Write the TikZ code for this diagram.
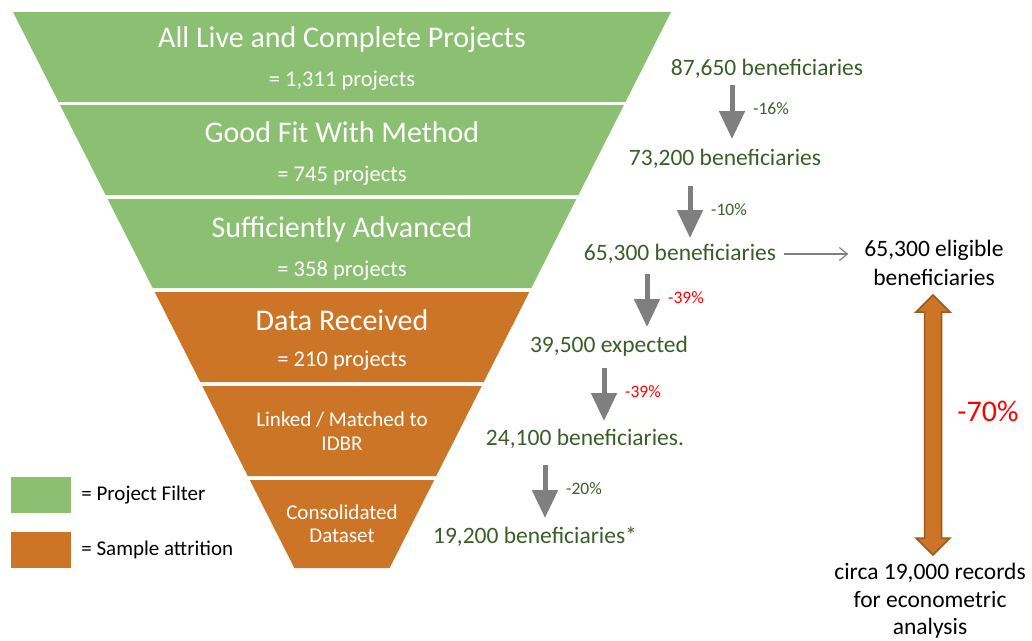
\documentclass[tikz,border=0pt]{standalone}
\usepackage{fontspec}
\setmainfont{Carlito}
\usetikzlibrary{positioning, arrows.meta, calc}

\definecolor{filtgreen}{HTML}{8BBF72}
\definecolor{attrorange}{HTML}{CC7527}
\definecolor{rimorange}{HTML}{9A5A1F}
\definecolor{countgreen}{HTML}{3A5E26}
\definecolor{dropgray}{HTML}{7F7F7F}
\definecolor{lossred}{HTML}{FF0000}

\tikzset{
  every node/.style={inner sep=0pt},
  headtext/.style={text=white, font=\fontsize{30}{35}\selectfont},
  sizetext/.style={text=white, font=\fontsize{22.5}{26}\selectfont},
  smalltext/.style={text=white, align=center, font=\fontsize{21}{23.5}\selectfont},
  count/.style={text=countgreen, font=\fontsize{23.5}{29}\selectfont},
  pct/.style={anchor=west, font=\fontsize{17.5}{20}\selectfont},
  drop/.style={dropgray, line width=5pt, -{Triangle[width=25pt,length=28pt]}},
  thinarrow/.style={dropgray, line width=1.2pt, -{Straight Barb[length=8pt,width=13pt]}},
  bigarrow/.style={fill=attrorange, draw=rimorange, line width=1.5pt, line join=miter},
  keybox/.style={minimum width=60pt, minimum height=36pt},
  keytext/.style={anchor=west, font=\fontsize{21}{24}\selectfont}
}

\begin{document}
\begin{tikzpicture}[x=1pt, y=-1pt, declare function={hw(\y)=329-0.506*(\y-12);}]
                  \useasboundingbox (0,0) rectangle (1032,640);

                  % Funnel bands
                  \foreach \t/\b/\c in {12/102/filtgreen, 105/195/filtgreen, 199/288/filtgreen,
                                        292/382/attrorange, 386/476/attrorange, 480/568/attrorange}
                  \fill[\c] ({342-hw(\t)},\t) -- ({342+hw(\t)},\t) -- ({342+hw(\b)},\b) -- ({342-hw(\b)},\b) -- cycle;

                  % Band texts
                  \node[headtext] (head1) at (342,40) {All Live and Complete Projects};
                  \node[sizetext] (size1) at (342,81) {= 1,311 projects};
                  \node[headtext] (head2) at (342,132) {Good Fit With Method};
                  \node[sizetext] (size2) at (342,176) {= 745 projects};
                  \node[headtext] (head3) at (342,229) {Sufficiently Advanced};
                  \node[sizetext] (size3) at (342,271) {= 358 projects};
                  \node[headtext] (head4) at (342,320) {Data Received};
                  \node[sizetext] (size4) at (342,361) {= 210 projects};
                  \node[smalltext] (head5) at (342,431) {Linked / Matched to\\IDBR};
                  \node[smalltext] (head6) at (342,524) {Consolidated\\Dataset};

                  % Legend
                  \node[keybox, fill=filtgreen] (keyfilt) at (41,495) {};
                  \node[keybox, fill=attrorange] (keyattr) at (41,550) {};
                  \node[keytext, right=10pt of keyfilt] (labfilt) {= Project Filter};
                  \node[keytext, right=10pt of keyattr] (labattr) {= Sample attrition};

                  % Beneficiary counts
                  \node[count] (n1) at (767,69) {87,650 beneficiaries};
                  \node[count] (n2) at (725,159) {73,200 beneficiaries};
                  \node[count] (n3) at (680,254) {65,300 beneficiaries};
                  \node[count] (n4) at (609,346) {39,500 expected};
                  \node[count] (n5) at (585,439) {24,100 beneficiaries.};
                  \node[count] (n6) at (535,537) {19,200 beneficiaries*};

                  % Drops between counts
                  \foreach \x/\ya/\yb/\p/\c [count=\i] in {732/85/139/-16/countgreen, 690/186/238/-10/countgreen,
                                                          647/274/327/-39/lossred, 604/368/421/-39/lossred,
                                                          545/465/518/-20/countgreen}
                  {
                  \draw[drop] (\x,\ya) coordinate (top\i) -- (\x,\yb) coordinate (tip\i);
                  \node[pct, text=\c] (cut\i) at (\x+21,\ya+24) {\p\%};
                  }

                  % Overall attrition
                  \node[count, text=black, align=center] (elig) at (934,263) {65,300 eligible\\beneficiaries};
                  \draw[thinarrow, shorten <=8pt, shorten >=16pt] (n3.east) -- (n3.east -| elig.west);
                  \coordinate (up) at (933,295);
                  \coordinate (dn) at (933,555);
                  \draw[bigarrow] (up) -- ++(17,17) -- ++(-8.5,0) -- ++(0,226) -- ++(8.5,0) -- (dn)
                        -- ++(-17,-17) -- ++(8.5,0) -- ++(0,-226) -- ++(-8.5,0) -- cycle;
                  \node[text=lossred, font=\fontsize{30}{36}\selectfont] (total) at (988,411) {-70\%};
                  \node[align=center, font=\fontsize{23.5}{27.5}\selectfont] (recs) at (930,601) {circa 19,000 records\\for econometric\\analysis};
              \end{tikzpicture}
\end{document}
